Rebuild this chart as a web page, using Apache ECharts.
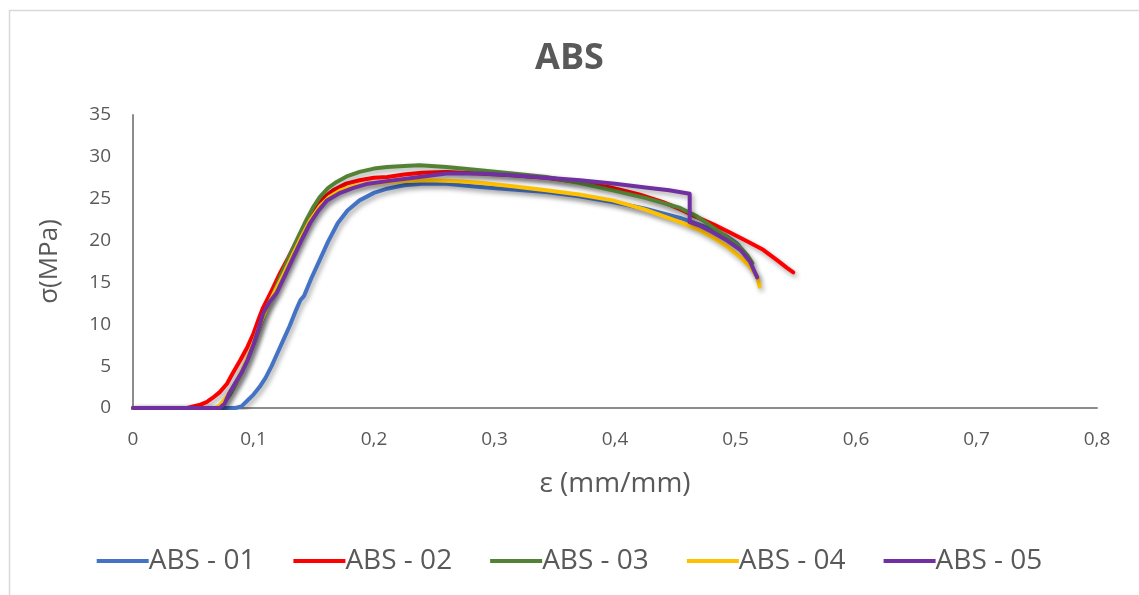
<!DOCTYPE html>
<html>
<head>
<meta charset="utf-8">
<script src="https://cdn.jsdelivr.net/npm/echarts@6/dist/echarts.min.js"></script>
<style>
  html, body { margin: 0; padding: 0; background: #fff; }
  #chart { width: 1139px; height: 595px; }
</style>
</head>
<body>
<div id="chart"></div>
<script>
// Stress–strain curves of five ABS specimens: [strain (mm/mm), stress (MPa)]
const seriesNames = ['ABS - 01', 'ABS - 02', 'ABS - 03', 'ABS - 04', 'ABS - 05'];
const seriesColors = ['#4472C4', '#FF0000', '#548235', '#FFC000', '#7030A0'];

const abs01 = [[0,0],[0.085,0],[0.09,0.2],[0.095,0.9],[0.1,1.6],[0.105,2.5],[0.11,3.6],[0.115,5.0],[0.12,6.6],[0.125,8.2],[0.13,9.8],[0.135,11.6],[0.139,12.9],[0.142,13.4],[0.148,15.5],[0.155,17.7],[0.162,19.9],[0.17,22.1],[0.178,23.6],[0.188,24.8],[0.2,25.7],[0.211,26.2],[0.225,26.6],[0.24,26.8],[0.26,26.8],[0.288,26.4],[0.315,26.1],[0.343,25.8],[0.37,25.3],[0.398,24.6],[0.425,23.8],[0.454,22.7],[0.47,21.9],[0.481,21.3],[0.492,20.6],[0.501,19.7],[0.503,19.4]];

const abs02 = [[0,0],[0.045,0],[0.05,0.2],[0.056,0.4],[0.061,0.7],[0.066,1.2],[0.072,1.9],[0.078,2.9],[0.083,4.2],[0.089,5.7],[0.095,7.3],[0.1,8.9],[0.105,10.9],[0.108,12.0],[0.115,14.0],[0.122,16.1],[0.129,18.0],[0.136,20.0],[0.143,22.0],[0.149,23.6],[0.157,25.0],[0.166,26.0],[0.177,26.8],[0.188,27.2],[0.2,27.5],[0.211,27.6],[0.225,27.9],[0.24,28.1],[0.26,28.2],[0.288,28.0],[0.315,27.8],[0.343,27.5],[0.37,27.0],[0.398,26.3],[0.42,25.5],[0.44,24.6],[0.455,23.7],[0.468,22.8],[0.482,21.9],[0.495,21.0],[0.51,19.9],[0.523,18.9],[0.535,17.6],[0.543,16.7],[0.548,16.2]];

const abs03 = [[0,0],[0.07,0],[0.075,0.5],[0.08,1.5],[0.085,2.8],[0.09,4.2],[0.095,5.8],[0.1,7.6],[0.105,9.6],[0.11,11.6],[0.116,13.5],[0.122,15.6],[0.13,18.2],[0.137,20.4],[0.144,22.5],[0.15,24.1],[0.155,25.2],[0.162,26.3],[0.169,27.0],[0.178,27.7],[0.188,28.2],[0.2,28.6],[0.211,28.8],[0.225,28.9],[0.238,29.0],[0.26,28.8],[0.288,28.4],[0.315,28.0],[0.343,27.6],[0.37,26.9],[0.398,26.0],[0.425,25.1],[0.454,23.9],[0.468,22.9],[0.481,21.6],[0.493,20.4],[0.504,19.2],[0.51,18.2],[0.514,17.3]];

const abs04 = [[0,0],[0.068,0],[0.072,0.3],[0.077,1.2],[0.082,2.3],[0.086,3.2],[0.091,4.6],[0.096,6.3],[0.101,8.2],[0.106,10.2],[0.112,12.3],[0.118,14.0],[0.125,16.0],[0.133,18.4],[0.14,20.5],[0.147,22.4],[0.155,24.1],[0.163,25.2],[0.172,26.0],[0.183,26.5],[0.195,26.8],[0.205,26.9],[0.22,27.1],[0.246,27.2],[0.27,27.1],[0.288,26.9],[0.315,26.5],[0.343,26.0],[0.37,25.5],[0.398,24.8],[0.425,23.7],[0.454,22.2],[0.468,21.4],[0.481,20.4],[0.493,19.3],[0.504,18.0],[0.512,16.9],[0.518,15.7],[0.52,14.5]];

const abs05 = [[0,0],[0.072,0],[0.076,0.5],[0.08,1.8],[0.085,3.0],[0.09,4.2],[0.095,5.7],[0.1,7.6],[0.104,9.4],[0.108,11.3],[0.113,12.6],[0.119,13.7],[0.126,15.8],[0.133,18.0],[0.14,20.1],[0.147,22.1],[0.154,23.6],[0.161,24.8],[0.172,25.7],[0.183,26.3],[0.195,26.8],[0.211,27.1],[0.238,27.6],[0.26,28.0],[0.288,28.0],[0.315,27.8],[0.343,27.5],[0.371,27.2],[0.4,26.8],[0.427,26.3],[0.445,26.0],[0.462,25.6],[0.462,22.2],[0.47,21.8],[0.481,21.0],[0.493,20.0],[0.504,18.9],[0.512,17.5],[0.518,15.6]];

const seriesData = [abs01, abs02, abs03, abs04, abs05];

// Axis ranges and ticks
const xMin = 0, xMax = 0.8, xStep = 0.1;
const yMin = 0, yMax = 35, yStep = 5;

const textColor = '#595959';
const axisColor = '#8c8c8c';
const fontFamily = '"Open Sans", "Noto Sans", sans-serif';

const chart = echarts.init(document.getElementById('chart'), null, { renderer: 'canvas' });

const commaDecimal = v => String(Number(v.toFixed(1))).replace('.', ',');

chart.setOption({
  backgroundColor: '#ffffff',
  animation: false,
  graphic: [{
    type: 'rect',
    left: 7, top: 8,
    shape: { width: 1200, height: 700 },
    style: { fill: 'none', stroke: '#d9d9d9', lineWidth: 1.5 },
    silent: true,
    z: -10
  }],
  title: {
    text: 'ABS',
    left: 'center',
    top: 36,
    textStyle: { color: textColor, fontSize: 36, fontWeight: 'bold', fontFamily }
  },
  grid: { left: 133, right: 42, top: 115, bottom: 187, containLabel: false },
  legend: {
    data: seriesNames,
    bottom: 15,
    left: 'center',
    itemGap: 38,
    itemWidth: 52,
    itemHeight: 4,
    icon: 'rect',
    textStyle: { color: textColor, fontSize: 28, fontFamily, padding: [0, 0, 0, -5] }
  },
  xAxis: {
    type: 'value',
    min: xMin, max: xMax, interval: xStep,
    name: 'ε (mm/mm)',
    nameLocation: 'middle',
    nameGap: 62,
    nameTextStyle: { color: textColor, fontSize: 28, fontFamily },
    axisLine: { show: true, lineStyle: { color: axisColor, width: 2 } },
    axisTick: { show: false },
    splitLine: { show: false },
    axisLabel: { color: textColor, fontSize: 19, fontFamily, margin: 22, formatter: commaDecimal }
  },
  yAxis: {
    type: 'value',
    min: yMin, max: yMax, interval: yStep,
    name: 'σ(MPa)',
    nameLocation: 'middle',
    nameGap: 70,
    nameRotate: 90,
    nameTextStyle: { color: textColor, fontSize: 26, fontFamily },
    axisLine: { show: true, lineStyle: { color: axisColor, width: 2 } },
    axisTick: { show: false },
    splitLine: { show: false },
    axisLabel: { color: textColor, fontSize: 19, fontFamily, margin: 22 }
  },
  series: seriesNames.map((name, i) => ({
    name,
    type: 'line',
    data: seriesData[i],
    showSymbol: false,
    symbol: 'none',
    color: seriesColors[i],
    lineStyle: {
      width: 4,
      color: seriesColors[i],
      shadowColor: 'rgba(0,0,0,0.35)',
      shadowBlur: 5,
      shadowOffsetX: 2,
      shadowOffsetY: 3,
      cap: 'round',
      join: 'round'
    },
    z: 2 + i
  }))
});
</script>
</body>
</html>
